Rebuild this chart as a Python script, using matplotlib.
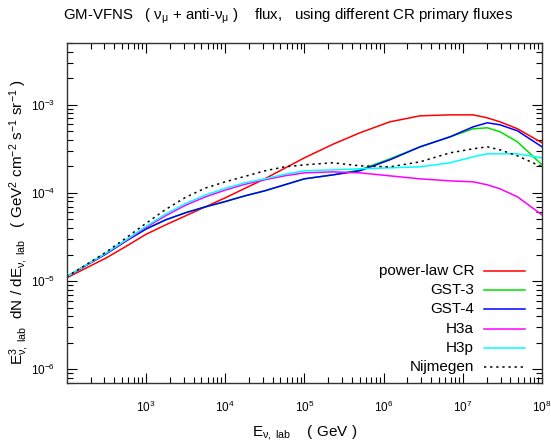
import matplotlib
matplotlib.use("Agg")
import matplotlib.pyplot as plt
from matplotlib.lines import Line2D
from matplotlib.ticker import LogLocator, NullFormatter

plt.rcParams['font.family'] = ['Liberation Sans', 'DejaVu Sans']
plt.rcParams['mathtext.fontset'] = 'custom'
plt.rcParams['mathtext.rm'] = 'Liberation Sans'
plt.rcParams['mathtext.it'] = 'Liberation Sans:italic'

# values, kept as log10
# log10 of neutrino energy (GeV)
log_energy = [2.0, 2.25, 2.5, 2.75, 3.0, 3.25, 3.5, 3.75, 4.0, 4.25, 4.5, 4.75,
              5.0, 5.36, 5.70, 6.08, 6.46, 6.84, 7.13, 7.31, 7.47, 7.69, 8.0]

# log10 of E^3 dN/dE  (GeV^2 cm^-2 s^-1 sr^-1)
log_power_law = [-4.964, -4.850, -4.737, -4.606, -4.470, -4.362, -4.260, -4.158,
                 -4.056, -3.948, -3.840, -3.721, -3.602, -3.448, -3.318, -3.193,
                 -3.125, -3.114, -3.114, -3.148, -3.193, -3.272, -3.431]
log_gst3 = [-4.952, -4.820, -4.690, -4.545, -4.410, -4.305, -4.225, -4.158,
            -4.098, -4.033, -3.976, -3.908, -3.840, -3.795, -3.738, -3.613,
            -3.477, -3.363, -3.272, -3.261, -3.306, -3.420, -3.681]
log_gst4 = [-4.952, -4.820, -4.690, -4.545, -4.410, -4.305, -4.225, -4.158,
            -4.098, -4.033, -3.976, -3.908, -3.840, -3.795, -3.749, -3.624,
            -3.477, -3.363, -3.250, -3.204, -3.227, -3.295, -3.477]
log_h3a = [-4.952, -4.818, -4.684, -4.540, -4.392, -4.258, -4.140, -4.045,
           -3.968, -3.902, -3.851, -3.806, -3.772, -3.761, -3.772, -3.806,
           -3.840, -3.863, -3.874, -3.908, -3.953, -4.044, -4.249]
log_h3p = [-4.952, -4.816, -4.680, -4.532, -4.380, -4.240, -4.120, -4.025,
           -3.948, -3.885, -3.840, -3.789, -3.749, -3.738, -3.726, -3.715,
           -3.704, -3.658, -3.590, -3.556, -3.556, -3.556, -3.602]
log_nijmegen = [-4.952, -4.812, -4.670, -4.510, -4.345, -4.187, -4.050, -3.945,
                -3.874, -3.812, -3.749, -3.704, -3.681, -3.658, -3.692, -3.704,
                -3.647, -3.545, -3.499, -3.477, -3.511, -3.579, -3.704]

energy = [10 ** v for v in log_energy]

series = [
    ('power-law CR', log_power_law, '#ff0000', '-'),
    ('GST-3', log_gst3, '#00e000', '-'),
    ('GST-4', log_gst4, '#0000ff', '-'),
    ('H3a', log_h3a, '#ff00ff', '-'),
    ('H3p', log_h3p, '#00ffff', '-'),
    ('Nijmegen', log_nijmegen, '#000000', (0, (1.5, 2.5))),
]

fig = plt.figure(figsize=(5.51, 4.41), dpi=100)
ax = fig.add_axes([0.121, 0.131, 0.8627, 0.771])

for name, vals, col, ls in series:
    ax.plot(energy, [10 ** v for v in vals], color=col, linestyle=ls, linewidth=1.1)

ax.set_xscale('log')
ax.set_yscale('log')
ax.set_xlim(1e2, 1e8)
ax.set_ylim(6.93e-7, 5.0e-3)
ax.set_xticks([1e3, 1e4, 1e5, 1e6, 1e7, 1e8])
ax.xaxis.set_minor_locator(LogLocator(base=10, subs=range(2, 10), numticks=20))
ax.yaxis.set_minor_locator(LogLocator(base=10, subs=range(2, 10), numticks=20))
ax.xaxis.set_minor_formatter(NullFormatter())
ax.yaxis.set_minor_formatter(NullFormatter())
ax.tick_params(which='both', direction='in', top=True, right=True, labelsize=8.5)
ax.tick_params(which='major', length=7.5, width=0.8)
ax.tick_params(which='minor', length=4, width=0.8)
ax.tick_params(axis='x', which='major', pad=12)
ax.tick_params(axis='y', which='major', pad=8)
for s in ax.spines.values():
    s.set_linewidth(1.0)
    s.set_color('#333333')

ax.set_xlabel(r'E$_{\mathrm{\nu},\ \mathrm{lab}}$    ( GeV )', fontsize=11, labelpad=6)
ax.set_ylabel(r'E$^3_{\mathrm{\nu},\ \mathrm{lab}}$  dN / dE$_{\mathrm{\nu},\ \mathrm{lab}}$   '
              r'( GeV$^2$ cm$^{-2}$ s$^{-1}$ sr$^{-1}$ )', fontsize=11)
ax.yaxis.set_label_coords(-0.073, 0.474)

fig.text(0.523, 0.963,
         r'GM-VFNS   ( $\mathrm{\nu}_\mathrm{\mu}$ + anti-$\mathrm{\nu}_\mathrm{\mu}$ )    flux,   '
         r'using different CR primary fluxes',
         ha='center', va='center', fontsize=10.8)

# legend: right-aligned text with the line sample on its right
for i, (name, vals, col, ls) in enumerate(series):
    yy = 0.330 - i * 0.0565
    ax.text(0.857, yy, name, transform=ax.transAxes, ha='right', va='center', fontsize=11)
    ax.add_line(Line2D([0.878, 0.964], [yy, yy], transform=ax.transAxes,
                       color=col, linestyle=ls, linewidth=1.1))

fig.savefig('out.png', dpi=100)
